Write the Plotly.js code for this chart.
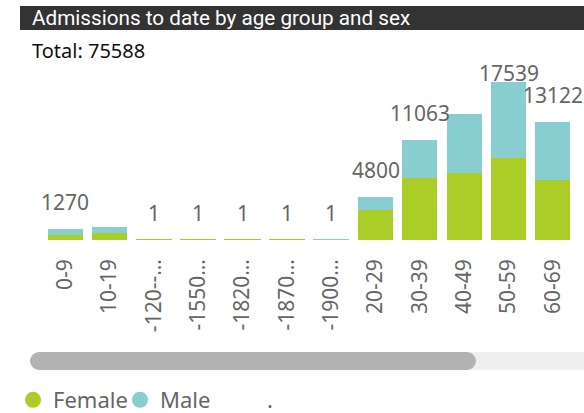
<!DOCTYPE html>
<html>
<head>
<meta charset="utf-8">
<script src="https://cdn.plot.ly/plotly-3.0.1.min.js"></script>
<style>html,body{margin:0;padding:0;background:#fff;}#chart{width:584px;height:413px;}</style>
</head>
<body>
<div id="chart"></div>
<script>
// ---- data ----
const ageGroups = ["0-9", "10-19", "-120--…", "-1550…", "-1820…", "-1870…", "-1900…", "20-29", "30-39", "40-49", "50-59", "60-69"];
const female = [560, 810, 1, 1, 1, 1, 0, 3330, 6915, 7440, 9135, 6700];
const male   = [710, 600, 0, 0, 0, 0, 1, 1470, 4148, 6550, 8404, 6422];
const totalLabels = ["1270", "", "1", "1", "1", "1", "1", "4800", "11063", "", "17539", "13122"];
const totalAdmissions = 75588;
const titleText = "Admissions to date by age group and sex";

// ---- styling ----
const W = 584, H = 413;
const M = {l: 43, r: 9, t: 70, b: 173};
const plotW = W - M.l - M.r, plotH = H - M.t - M.b;
const yMax = 18870;
const greenC = "#aacd28", tealC = "#88cdd0";
const labelGray = "#666666";

const totals = female.map((f, i) => f + male[i]);
const pxPerUnit = plotH / yMax;
const minLabelCenterPx = 73;   // labels are kept below this line
const annotations = totals.map((t, i) => {
  const topPx = M.t + plotH - t * pxPerUnit;
  const shift = Math.min(27, topPx - minLabelCenterPx);
  return {x: ageGroups[i], y: t, xref: "x", yref: "y", text: totalLabels[i],
          showarrow: false, yanchor: "middle", yshift: shift,
          font: {family: "Noto Sans, Open Sans, sans-serif", size: 21, color: labelGray}};
});
annotations.push({xref: "paper", yref: "paper", x: (30 - M.l) / plotW, xanchor: "left",
  y: (M.t + plotH - 50) / plotH, yanchor: "middle", showarrow: false,
  text: "Total: " + totalAdmissions,
  font: {family: "Noto Sans, Open Sans, sans-serif", size: 20, color: "#111111"}});

const thinLine = v => v.map(x => (x > 0 && x < 10) ? 1 : 0);

const px2x = p => (p - M.l) / plotW;
const px2y = p => (M.t + plotH - p) / plotH;

const shapes = [
  // title bar
  {type: "rect", xref: "paper", yref: "paper", x0: px2x(20), x1: px2x(584), y0: px2y(30), y1: px2y(6),
   fillcolor: "#333333", line: {width: 0}, layer: "below"},
  // scroll track
  {type: "rect", xref: "paper", yref: "paper", x0: px2x(39), x1: px2x(584), y0: px2y(370), y1: px2y(352),
   fillcolor: "#efefef", line: {width: 0}},
  {type: "circle", xref: "paper", yref: "paper", x0: px2x(30), x1: px2x(48), y0: px2y(370), y1: px2y(352),
   fillcolor: "#b3b3b3", line: {width: 0}},
  {type: "circle", xref: "paper", yref: "paper", x0: px2x(458), x1: px2x(476), y0: px2y(370), y1: px2y(352),
   fillcolor: "#b3b3b3", line: {width: 0}},
  {type: "rect", xref: "paper", yref: "paper", x0: px2x(39), x1: px2x(467), y0: px2y(370), y1: px2y(352),
   fillcolor: "#b3b3b3", line: {width: 0}}
];

const traces = [
  {type: "bar", name: "Female", x: ageGroups, y: female, showlegend: false,
   marker: {color: greenC, line: {color: greenC, width: thinLine(female)}}, hoverinfo: "skip"},
  {type: "bar", name: "Male", x: ageGroups, y: male, showlegend: false,
   marker: {color: tealC, line: {color: tealC, width: thinLine(male)}}, hoverinfo: "skip"},
  {type: "scatter", mode: "markers", name: "Female", x: [null], y: [null],
   marker: {color: greenC, size: 20, symbol: "circle"}},
  {type: "scatter", mode: "markers", name: "Male", x: [null], y: [null],
   marker: {color: tealC, size: 20, symbol: "circle"}},
  {type: "scatter", mode: "markers", name: ".", x: [null], y: [null],
   marker: {color: "rgba(0,0,0,0)", size: 20, symbol: "circle"}}
];

const layout = {
  width: W, height: H, margin: M,
  paper_bgcolor: "#ffffff", plot_bgcolor: "#ffffff",
  barmode: "stack", bargap: 0.21,
  title: {text: titleText, xref: "container", yref: "container", x: 32 / W, xanchor: "left",
          y: 1 - 18 / H, yanchor: "middle", automargin: false,
          font: {family: "Roboto, DejaVu Sans, sans-serif", size: 20.7, color: "#ffffff"}},
  xaxis: {type: "category", categoryorder: "array", categoryarray: ageGroups, automargin: false,
          range: [-0.5, ageGroups.length - 0.5], autorange: false,
          tickangle: -90, ticks: "", ticklabelstandoff: 14,
          tickfont: {family: "Noto Sans, Open Sans, sans-serif", size: 21, color: labelGray},
          showgrid: false, zeroline: false, showline: false, fixedrange: true},
  yaxis: {range: [0, yMax], visible: false, fixedrange: true, automargin: false},
  showlegend: true,
  legend: {orientation: "h", traceorder: "normal", xref: "container", yref: "container", x: 13 / W, xanchor: "left",
           y: 1 - 400 / H, yanchor: "middle", itemwidth: 30, tracegroupgap: 0,
           entrywidthmode: "pixels", entrywidth: 62,
           font: {family: "Noto Sans, Open Sans, sans-serif", size: 22, color: labelGray},
           bgcolor: "rgba(0,0,0,0)"},
  annotations: annotations,
  shapes: shapes
};

Plotly.newPlot("chart", traces, layout, {staticPlot: true, displayModeBar: false});
</script>
</body>
</html>
